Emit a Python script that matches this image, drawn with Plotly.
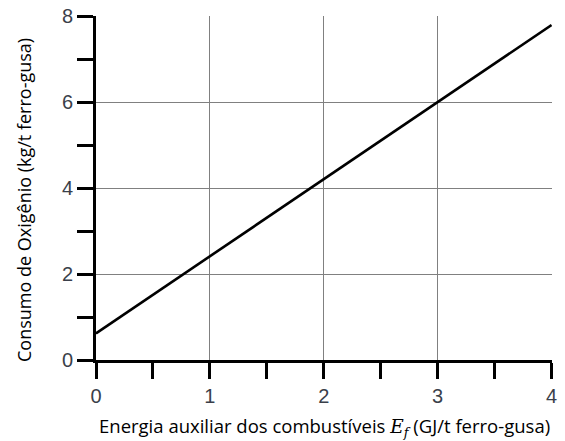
import plotly.graph_objects as go

energia = [0, 1, 2, 3, 4]
oxigenio = [0.62, 2.41, 4.2, 6.0, 7.8]

x_ticks = [0, 1, 2, 3, 4]
y_ticks = [0, 2, 4, 6, 8]

x_title = "Energia auxiliar dos combustíveis <span style='font-family:DejaVu Serif'><i>E</i><sub><i>f</i></sub></span> (GJ/t ferro-gusa)"
y_title = "Consumo de Oxigênio (kg/t ferro-gusa)"

fig = go.Figure()
fig.add_trace(go.Scatter(x=energia, y=oxigenio, mode="lines",
                         line=dict(color="black", width=2.6), showlegend=False))

fig.update_layout(
    width=565, height=441,
    margin=dict(l=96, r=13, t=16, b=81),
    plot_bgcolor="white", paper_bgcolor="white",
)
common = dict(
    automargin=False,
    showline=True, linecolor="black", linewidth=3,
    ticks="outside", ticklen=16, tickwidth=3, tickcolor="black",
    showgrid=True, gridcolor="#808080", gridwidth=1.3,
    zeroline=False,
    tickfont=dict(family="Liberation Sans, Arial", size=20, color="#3a3f4a"),
)
fig.update_xaxes(
    range=[0, 4.004], tickvals=x_ticks, ticktext=[str(v) for v in x_ticks],
    minor=dict(dtick=0.5, tick0=0, ticks="outside", ticklen=16, tickwidth=3,
               tickcolor="black", showgrid=False),
    **common,
)
fig.update_yaxes(
    range=[0, 8.01], tickvals=y_ticks, ticktext=[str(v) for v in y_ticks],
    minor=dict(dtick=1, tick0=0, ticks="outside", ticklen=16, tickwidth=3,
               tickcolor="black", showgrid=False),
    **common,
)
fig.add_annotation(text=x_title, xref="paper", yref="paper", x=0.502, y=-0.192,
                   xanchor="center", yanchor="middle", showarrow=False,
                   font=dict(family="Open Sans", size=18.5, color="black"))
fig.add_annotation(text=y_title, xref="paper", yref="paper", x=-0.158, y=0.465,
                   xanchor="center", yanchor="middle", showarrow=False, textangle=-90,
                   font=dict(family="Open Sans", size=18, color="black"))

fig.write_html("out.html")
